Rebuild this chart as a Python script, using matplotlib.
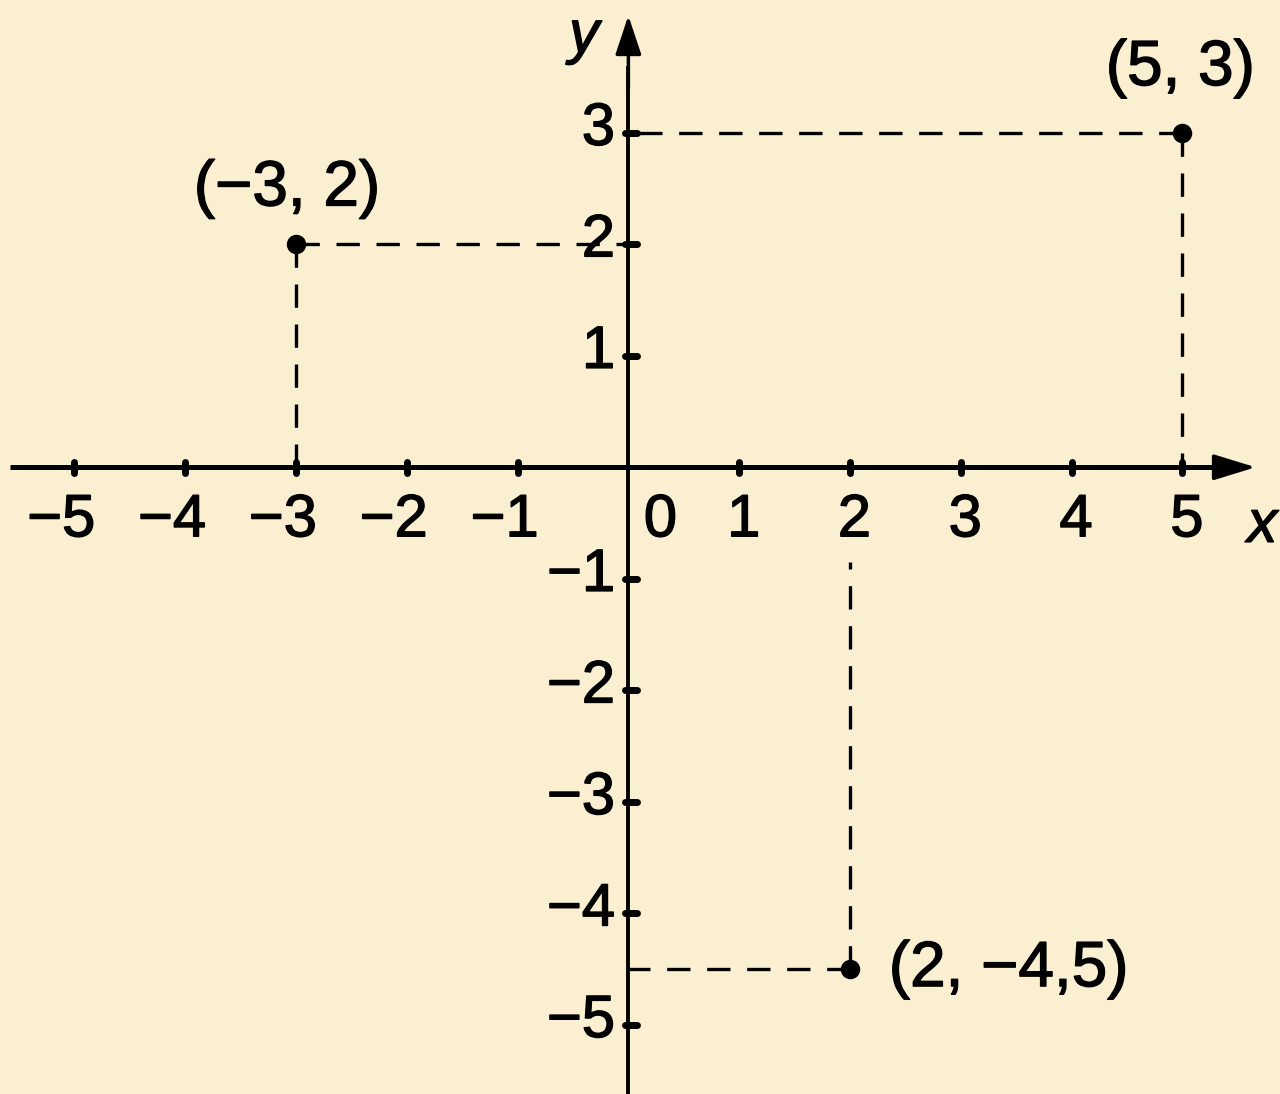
import numpy as np
import matplotlib.pyplot as plt
import matplotlib.patheffects as pe

# puntos del plano
px = [-3, 5, 2]
py = [2, 3, -4.5]
etiquetas = ["(−3, 2)", "(5, 3)", "(2, −4,5)"]
xticks = [-5, -4, -3, -2, -1, 1, 2, 3, 4, 5]
yticks = [-5, -4, -3, -2, -1, 1, 2, 3]

fondo = "#FBEFD1"
plt.rcParams['font.family'] = ['Liberation Sans', 'DejaVu Sans']
fs = 43
grueso = [pe.withStroke(linewidth=1.0, foreground='black')]

fig = plt.figure(figsize=(12.8, 10.94), dpi=100)
fig.patch.set_facecolor(fondo)
ax = fig.add_axes([0, 0, 1, 1])
ax.set_facecolor(fondo)
ax.set_xlim(-5.67, 5.88)
ax.set_ylim(-5.62, 4.19)
ax.axis('off')

# ejes
ax.plot([-5.58, 5.3], [0, 0], color='black', lw=3.6, solid_capstyle='butt')
ax.plot([0, 0], [-5.7, 3.6], color='black', lw=2.8, solid_capstyle='butt')
ax.annotate('', xy=(5.66, 0), xytext=(5.1, 0),
            arrowprops=dict(arrowstyle='-|>,head_length=2.6,head_width=0.8',
                            color='black', lw=2.5, shrinkA=0, shrinkB=0))
ax.annotate('', xy=(0, 4.05), xytext=(0, 3.4),
            arrowprops=dict(arrowstyle='-|>,head_length=2.4,head_width=0.8',
                            color='black', lw=2.5, shrinkA=0, shrinkB=0))

# marcas
for t in xticks:
    ax.plot([t, t], [-0.05, 0.05], color='black', lw=5, solid_capstyle='round')
    ax.text(t + 0.19, -0.48, f"−{abs(t)}" if t < 0 else str(t), ha='right',
            va='center', fontsize=fs, path_effects=grueso)
for t in yticks:
    ax.plot([-0.03, 0.08], [t, t], color='black', lw=5, solid_capstyle='round')
    ax.text(-0.12, t + 0.03, f"−{abs(t)}" if t < 0 else str(t), ha='right',
            va='center', fontsize=fs, path_effects=grueso)
ax.text(0.29, -0.48, "0", ha='center', va='center', fontsize=fs, path_effects=grueso)

ax.text(-0.4, 3.86, "y", fontsize=fs, style='italic', ha='center', va='center',
        path_effects=grueso)
ax.text(5.72, -0.53, "x", fontsize=fs, style='italic', ha='center', va='center',
        path_effects=grueso)

# líneas punteadas
estilo = dict(color='black', lw=2.4, dashes=(7, 5))
ax.plot([px[0], 0], [py[0], py[0]], **estilo)
ax.plot([px[0], px[0]], [py[0], 0], **estilo)
ax.plot([px[1], 0], [py[1], py[1]], **estilo)
ax.plot([px[1], px[1]], [py[1], 0], **estilo)
ax.plot([px[2], 0], [py[2], py[2]], **estilo)
ax.plot([px[2], px[2]], [py[2], -0.85], **estilo)

ax.plot(px, py, 'o', color='black', markersize=13)

ax.text(-3.08, 2.5, etiquetas[0], fontsize=46, ha='center', va='center',
        path_effects=grueso)
ax.text(4.98, 3.58, etiquetas[1], fontsize=46, ha='center', va='center',
        path_effects=grueso)
ax.text(2.35, -4.5, etiquetas[2], fontsize=46, ha='left', va='center',
        path_effects=grueso)

fig.savefig("out.png", dpi=100, facecolor=fondo)
